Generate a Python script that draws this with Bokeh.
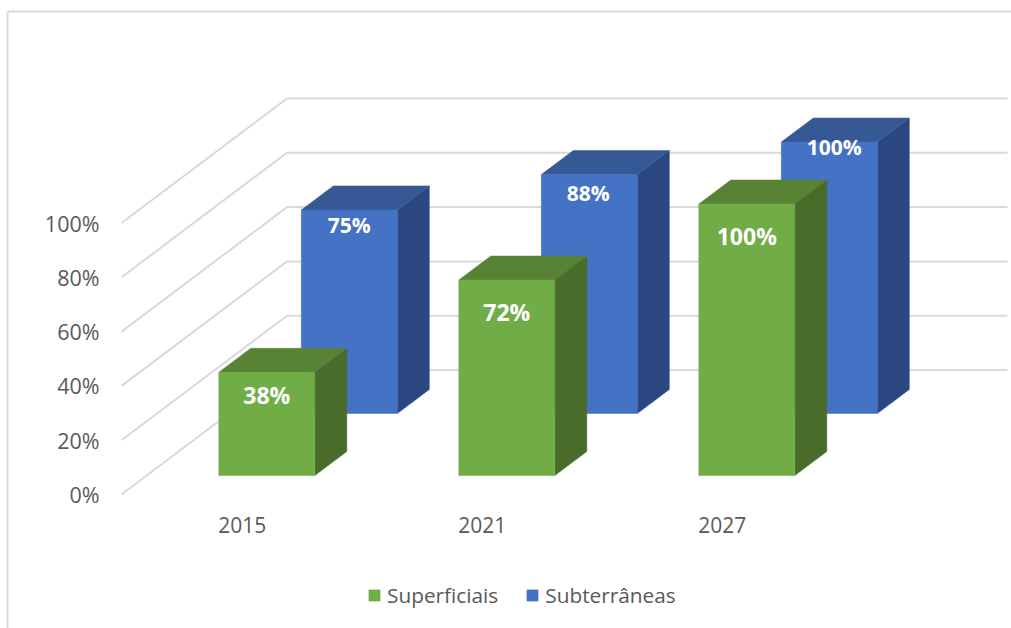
from bokeh.plotting import figure
from bokeh.models import Range1d, LinearAxis, FixedTicker, ColumnDataSource, Legend, LegendItem
from bokeh.core.properties import value
from bokeh.embed import file_html
from bokeh.resources import INLINE

# ---- data ----
years = ["2015", "2021", "2027"]
superficiais = [38, 72, 100]
subterraneas = [75, 88, 100]
y_ticks = [0, 20, 40, 60, 80, 100]

# ---- scales (pixels per unit) ----
W, H = 1011, 628
PXX, PXY = 240.0, 2.715
X0_PX, Y0_PX = 266.3, 494.0      # screen position of group 0 / of 0 %
def ux(px): return (px - X0_PX) / PXX
def uy(py): return (Y0_PX - py) / PXY

FONT = "Open Sans"
GRID = "#D9D9D9"
TXT = "#595959"

p = figure(width=W, height=H, output_backend="svg", toolbar_location=None,
           x_range=Range1d(ux(0), ux(W)),
           y_range=Range1d(uy(H), uy(0)),
           x_axis_location=None, y_axis_location=None, min_border=0, margin=0)
p.grid.visible = False
p.outline_line_color = None
p.background_fill_color = "white"

# chart frame
p.line([ux(7), ux(7)], [uy(11), uy(H)], line_color=GRID, line_width=2)
p.line([ux(7), ux(W)], [uy(11), uy(11)], line_color=GRID, line_width=2)

# walls
WALL_X0, WALL_X1, WALL_X2 = ux(121), ux(286.5), ux(1007)
WALL_DY = 124.5 / PXY
p.multi_line([[WALL_X0, WALL_X1, WALL_X2] for _ in y_ticks],
             [[t, t + WALL_DY, t + WALL_DY] for t in y_ticks],
             line_color=GRID, line_width=2)

# bars
BAR_W = 96 / PXX
DX, DY = 32 / PXX, 24 / PXY

def bar_set(vals, x_off, base, c_front, c_top, c_side, lab_dy_px, lab_dx_px, font_px):
    fx, fy, tx, ty, sx, sy = [], [], [], [], [], []
    for i, v in enumerate(vals):
        l, r = i + x_off - BAR_W / 2, i + x_off + BAR_W / 2
        t = base + v
        fx.append([l, r, r, l]); fy.append([base, base, t, t])
        tx.append([l, r, r + DX, l + DX]); ty.append([t, t, t + DY, t + DY])
        sx.append([r, r + DX, r + DX, r]); sy.append([base, base + DY, t + DY, t])
    p.patches(sx, sy, fill_color=c_side, line_color=c_side, line_width=0.5)
    p.patches(tx, ty, fill_color=c_top, line_color=c_top, line_width=0.5)
    front = p.patches(fx, fy, fill_color=c_front, line_color=c_front, line_width=0.5)
    src = ColumnDataSource(dict(
        x=[i + x_off + lab_dx_px[i] / PXX for i in range(len(vals))],
        y=[base + v - lab_dy_px[i] / PXY for i, v in enumerate(vals)],
        t=[f"{v}%" for v in vals]))
    p.text("x", "y", text="t", source=src, text_color="white", text_font=value(FONT),
           text_font_style="bold", text_font_size=f"{font_px}px",
           text_align="center", text_baseline="middle")
    return front

BACK_OFF = 82.5 / PXX
BACK_BASE = uy(413)
FRONT_BASE = uy(475)
r_sub = bar_set(subterraneas, BACK_OFF, BACK_BASE, "#4472C4", "#365895", "#2A4780",
                [15, 18, 5], [0, -1, 5], 21)
r_sup = bar_set(superficiais, 0, FRONT_BASE, "#70AD47", "#588234", "#4A6C2A",
                [23, 32, 32], [0, 0, 0], 23)

# axes
ya = LinearAxis(fixed_location=ux(105), ticker=FixedTicker(ticks=y_ticks),
                major_label_overrides={t: f"{t}%" for t in y_ticks},
                axis_line_color=None, major_tick_line_color=None, minor_tick_line_color=None,
                major_label_text_font=FONT, major_label_text_font_size="21.5px",
                major_label_text_color=TXT, major_label_standoff=0)
p.add_layout(ya, "left")

x_ticks = [i - 24.5 / PXX for i in range(len(years))]
xa = LinearAxis(fixed_location=uy(508), ticker=FixedTicker(ticks=x_ticks),
                major_label_overrides=dict(zip(x_ticks, years)),
                axis_line_color=None, major_tick_line_color=None, minor_tick_line_color=None,
                major_label_text_font=FONT, major_label_text_font_size="21px",
                major_label_text_color=TXT, major_label_standoff=2)
p.add_layout(xa, "below")

legend = Legend(items=[LegendItem(label="Superficiais", renderers=[r_sup]),
                       LegendItem(label="Subterrâneas", renderers=[r_sub])],
                orientation="horizontal", location=(367, 19),
                background_fill_alpha=0, border_line_color=None,
                padding=0, margin=0, spacing=27, glyph_width=14, glyph_height=14,
                label_standoff=6, label_text_font=FONT, label_text_font_size="20.8px",
                label_text_color=TXT)
p.add_layout(legend, "center")

open("out.html", "w").write(file_html(p, INLINE))
